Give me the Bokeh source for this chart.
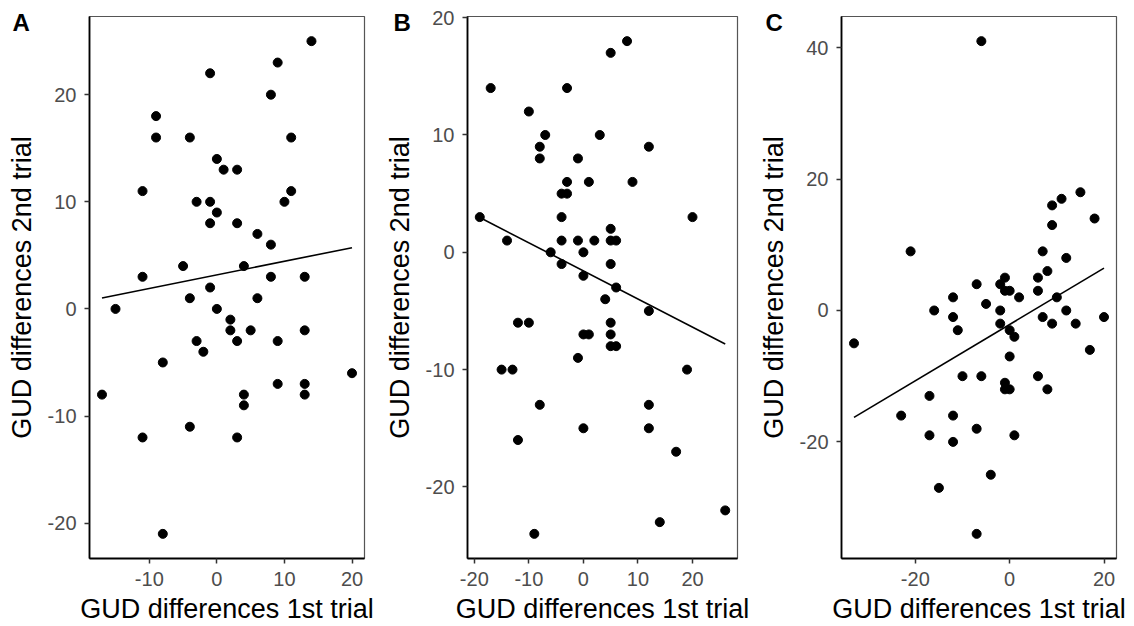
import numpy as np
from bokeh.plotting import figure
from bokeh.layouts import row
from bokeh.models import Range1d, FixedTicker, Label
from bokeh.embed import file_html
from bokeh.resources import INLINE

# ---------------- data ----------------
a_x = [-17, -15, -11, -11, -11, -9, -9, -8, -8, -5, -4, -4, -4, -3, -3, -2, -1, -1, -1, -1,
       0, 0, 0, 1, 2, 2, 3, 3, 3, 3, 4, 4, 4, 5, 6, 6, 8, 8, 8, 9, 9, 9, 10, 11, 11,
       13, 13, 13, 13, 14, 20]
a_y = [-8, 0, 11, 3, -12, 18, 16, -5, -21, 4, 16, 1, -11, 10, -3, -4, 22, 10, 8, 2,
       14, 9, 0, 13, -1, -2, 13, 8, -3, -12, 4, -8, -9, -2, 7, 1, 20, 6, 3, 23, -3, -7, 10, 16, 11,
       3, -2, -7, -8, 25, -6]

b_x = [-19, -17, -15, -14, -13, -12, -12, -10, -10, -9, -8, -8, -8, -7, -6, -4, -4, -4, -4,
       -3, -3, -3, -1, -1, -1, 0, 0, 0, 0, 1, 1, 2, 3, 4, 5, 5, 5, 5, 5, 5, 5, 6, 6, 6,
       8, 9, 12, 12, 12, 12, 14, 17, 19, 20, 26]
b_y = [3, 14, -10, 1, -10, -6, -16, 12, -6, -24, 9, 8, -13, 10, 0, 5, 3, 1, -1,
       5, 14, 6, 8, 1, -9, 0, -2, -7, -15, 6, -7, 1, 10, -4, 17, 2, 1, -1, -6, -7, -8, 1, -3, -8,
       18, 6, 9, -5, -13, -15, -23, -17, -10, 3, -22]

c_x = [-33, -23, -21, -17, -17, -16, -15, -12, -12, -12, -12, -11, -10, -7, -7, -7, -6, -6,
       -5, -4, -2, -2, -2, -1, -1, -1, -1, 0, 0, 0, 0, 1, 1, 2, 6, 6, 6, 7, 7, 8, 8, 9, 9, 9,
       10, 11, 12, 12, 14, 15, 17, 18, 20]
c_y = [-5, -16, 9, -13, -19, 0, -27, 2, -1, -16, -20, -3, -10, 4, -18, -34, 41, -10,
       1, -25, 4, 0, -2, 5, 3, -11, -12, 3, -3, -7, -12, -4, -19, 2, 5, 3, -10, 9, -1, 6, -12, 13, 16, -2,
       2, 17, 8, 0, -2, 18, -6, 14, -1]

a_xticks = [-10, 0, 10, 20]
a_yticks = [-20, -10, 0, 10, 20]
b_xticks = [-20, -10, 0, 10, 20]
b_yticks = [-20, -10, 0, 10, 20]
c_xticks = [-20, 0, 20]
c_yticks = [-20, 0, 20, 40]

panel_letters = ["A", "B", "C"]
x_title = "GUD differences 1st trial"
y_title = "GUD differences 2nd trial"

FONT = "Liberation Sans"
H = 626
TOP = 16
BOTTOM = 67


def expand(vals):
    lo, hi = min(vals), max(vals)
    pad = 0.05 * (hi - lo)
    return lo - pad, hi + pad


def panel(xs, ys, xticks, yticks, letter, width, bl, br):
    x0, x1 = expand(xs)
    y0, y1 = expand(ys)
    p = figure(width=width, height=H, output_backend="svg", toolbar_location=None,
               x_range=Range1d(x0, x1), y_range=Range1d(y0, y1),
               min_border_left=bl, min_border_right=br, min_border_top=TOP, min_border_bottom=BOTTOM)
    p.grid.visible = False
    p.outline_line_color = "#555555"
    p.outline_line_width = 1.2
    p.background_fill_color = "white"
    p.border_fill_color = "white"

    for ax in (p.xaxis[0], p.yaxis[0]):
        ax.axis_line_color = "black"
        ax.axis_line_width = 1.8
        ax.major_tick_line_color = "#333333"
        ax.major_tick_line_width = 1.5
        ax.major_tick_out = 5
        ax.major_tick_in = 0
        ax.minor_tick_line_color = None
        ax.major_label_text_font = FONT
        ax.major_label_text_font_size = "20px"
        ax.major_label_text_color = "#4d4d4d"
        ax.axis_label_text_font = FONT
        ax.axis_label_text_font_size = "27px"
        ax.axis_label_text_font_style = "normal"
        ax.axis_label_text_color = "black"
    p.xaxis[0].ticker = FixedTicker(ticks=xticks)
    p.yaxis[0].ticker = FixedTicker(ticks=yticks)
    p.xaxis[0].major_label_overrides = {t: str(t) for t in xticks}
    p.yaxis[0].major_label_overrides = {t: str(t) for t in yticks}
    p.xaxis[0].axis_label = x_title
    p.yaxis[0].axis_label = y_title
    p.xaxis[0].major_label_standoff = 8
    p.yaxis[0].major_label_standoff = 8
    p.xaxis[0].axis_label_standoff = 5
    p.yaxis[0].axis_label_standoff = 8

    p.scatter(xs, ys, size=9, color="black")

    slope, intercept = np.polyfit(xs, ys, 1)
    lx = np.array([min(xs), max(xs)], dtype=float)
    p.line(lx, slope * lx + intercept, line_color="black", line_width=1.6)

    # panel letter: lives in the right side panel (not clipped), shifted to the top-left corner
    frame_right = width - max(br, 18)
    p.add_layout(Label(x=11 - frame_right, y=(H - TOP - BOTTOM) + 7, x_units="screen", y_units="screen",
                       text=letter, text_font=FONT, text_font_style="bold",
                       text_font_size="24px", text_color="black", text_baseline="top"), "right")
    return p


pA = panel(a_x, a_y, a_xticks, a_yticks, panel_letters[0], 381, 89, 14)
pB = panel(b_x, b_y, b_xticks, b_yticks, panel_letters[1], 373, 85, 15)
pC = panel(c_x, c_y, c_xticks, c_yticks, panel_letters[2], 380, 87, 18)

layout = row(pA, pB, pC)
open("out.html", "w").write(file_html(layout, INLINE))
